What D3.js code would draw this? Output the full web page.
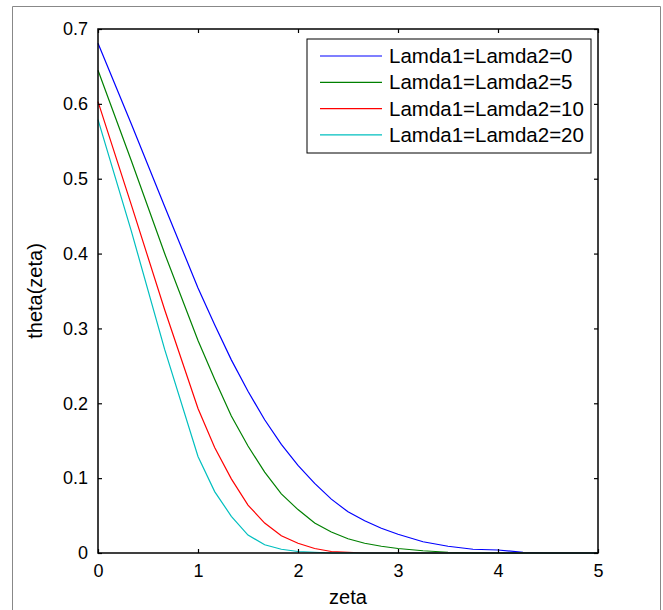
<!DOCTYPE html>
<html>
<head>
<meta charset="utf-8">
<script src="https://cdn.jsdelivr.net/npm/d3@7"></script>
<style>
  html, body { margin: 0; padding: 0; background: #fff; }
  svg { display: block; font-family: "Liberation Sans", Arial, sans-serif; }
  .axis path { display: none; }
  .axis line { stroke: #000; stroke-width: 1.2; }
  .axis text { fill: #000; font-size: 18px; font-family: "Liberation Sans", Arial, sans-serif; }
</style>
</head>
<body>
<div id="chart"></div>
<script>
// zeta grid shared by all curves
const zeta = [0, 1/3, 2/3, 1, 7/6, 4/3, 1.5, 5/3, 11/6, 2, 13/6, 7/3, 2.5, 8/3, 17/6, 3, 3.25, 3.5, 3.75, 4, 4.25, 4.5, 5];

const theta0  = [0.681, 0.573, 0.463, 0.354, 0.305, 0.258, 0.216, 0.178, 0.145, 0.117, 0.093, 0.072, 0.055, 0.043, 0.033, 0.025, 0.015, 0.009, 0.005, 0.004, 0.001, 0, 0];
const theta5  = [0.645, 0.524, 0.400, 0.284, 0.232, 0.183, 0.143, 0.108, 0.079, 0.058, 0.040, 0.028, 0.019, 0.013, 0.009, 0.006, 0.003, 0.001, 0, 0, 0, 0, 0];
const theta10 = [0.603, 0.465, 0.325, 0.193, 0.141, 0.099, 0.064, 0.040, 0.023, 0.013, 0.006, 0.002, 0.001, 0, 0, 0, 0, 0, 0, 0, 0, 0, 0];
const theta20 = [0.579, 0.430, 0.272, 0.129, 0.082, 0.049, 0.024, 0.011, 0.005, 0.002, 0.001, 0, 0, 0, 0, 0, 0, 0, 0, 0, 0, 0, 0];

const seriesNames  = ["Lamda1=Lamda2=0", "Lamda1=Lamda2=5", "Lamda1=Lamda2=10", "Lamda1=Lamda2=20"];
const seriesValues = [theta0, theta5, theta10, theta20];
const seriesColors = ["#0000ff", "#008000", "#ff0000", "#00bfbf"];

const xTicks = [0, 1, 2, 3, 4, 5];
const yTicks = [0, 0.1, 0.2, 0.3, 0.4, 0.5, 0.6, 0.7];

const width = 663, height = 610;
const margin = { top: 29, right: 65, bottom: 57, left: 98 };
const innerWidth  = width - margin.left - margin.right;
const innerHeight = height - margin.top - margin.bottom;

const svg = d3.select("#chart").append("svg")
  .attr("width", width)
  .attr("height", height);

// figure frame (cut off at the bottom like the reference)
svg.append("path")
  .attr("d", `M12.5,${height + 2} V6.5 H660.5 V${height + 2}`)
  .attr("fill", "none")
  .attr("stroke", "#888")
  .attr("stroke-width", 1);

const g = svg.append("g")
  .attr("transform", `translate(${margin.left},${margin.top})`);

const x = d3.scaleLinear().domain([0, 5]).range([0, innerWidth]);
const y = d3.scaleLinear().domain([0, 0.7]).range([innerHeight, 0]);

// curves
const line = d3.line()
  .x(d => x(d[0]))
  .y(d => y(d[1]));

seriesValues.forEach((vals, i) => {
  g.append("path")
    .datum(zeta.map((z, k) => [z, vals[k]]))
    .attr("fill", "none")
    .attr("stroke", seriesColors[i])
    .attr("stroke-width", 1.2)
    .attr("d", line);
});

// axes, ticks inward on all four sides
g.append("g").attr("class", "axis")
  .call(d3.axisLeft(y).tickValues(yTicks).tickSizeInner(-4).tickSizeOuter(0).tickPadding(10)
    .tickFormat(d => d === 0 ? "0" : d3.format(".1f")(d)));

g.append("g").attr("class", "axis")
  .attr("transform", `translate(0,${innerHeight})`)
  .call(d3.axisBottom(x).tickValues(xTicks).tickSizeInner(-4).tickSizeOuter(0).tickPadding(11)
    .tickFormat(d3.format("d")));

// mirrored ticks (no labels)
g.append("g").attr("class", "axis")
  .attr("transform", `translate(${innerWidth},0)`)
  .call(d3.axisRight(y).tickValues(yTicks).tickSizeInner(-4).tickSizeOuter(0))
  .selectAll("text").remove();

g.append("g").attr("class", "axis")
  .call(d3.axisTop(x).tickValues(xTicks).tickSizeInner(-4).tickSizeOuter(0))
  .selectAll("text").remove();

// box
g.append("rect")
  .attr("width", innerWidth)
  .attr("height", innerHeight)
  .attr("fill", "none")
  .attr("stroke", "#000")
  .attr("stroke-width", 1.5);

// axis labels
g.append("text")
  .attr("x", innerWidth / 2)
  .attr("y", innerHeight + 51)
  .attr("text-anchor", "middle")
  .attr("font-size", 20)
  .text("zeta");

g.append("text")
  .attr("transform", `translate(-56,${innerHeight / 2}) rotate(-90)`)
  .attr("text-anchor", "middle")
  .attr("font-size", 20)
  .text("theta(zeta)");

// legend
const legend = svg.append("g").attr("transform", "translate(307,39)");
legend.append("rect")
  .attr("width", 284)
  .attr("height", 114)
  .attr("fill", "#fff")
  .attr("stroke", "#000")
  .attr("stroke-width", 1);

seriesNames.forEach((name, i) => {
  const ly = 17 + i * 26.3;
  legend.append("line")
    .attr("x1", 13).attr("x2", 75)
    .attr("y1", ly).attr("y2", ly)
    .attr("stroke", seriesColors[i])
    .attr("stroke-width", 1.2);
  legend.append("text")
    .attr("x", 82)
    .attr("y", ly)
    .attr("dy", "0.35em")
    .attr("font-size", 20.5)
    .text(name);
});
</script>
</body>
</html>
